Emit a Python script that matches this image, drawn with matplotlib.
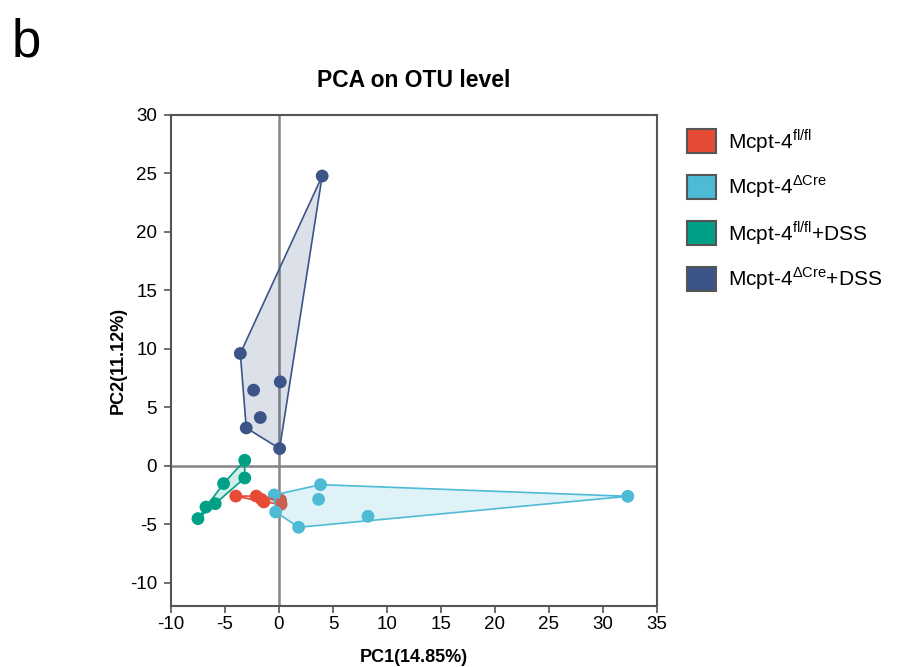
import numpy as np
import matplotlib
matplotlib.use("Agg")
from matplotlib import pyplot as plt
from matplotlib.patches import Patch, Polygon

plt.rcParams["font.family"] = ["Liberation Sans", "DejaVu Sans"]
plt.rcParams["mathtext.fontset"] = "custom"
plt.rcParams["mathtext.rm"] = "Liberation Sans"
plt.rcParams["axes.unicode_minus"] = False

# PCA scores
fl_x = [-4.0, -2.1, -1.6, -1.4, 0.15, 0.2]
fl_y = [-2.6, -2.6, -2.9, -3.1, -2.95, -3.3]

cre_x = [-0.44, -0.31, 3.85, 3.67, 1.82, 8.24, 32.3]
cre_y = [-2.5, -3.96, -1.62, -2.88, -5.27, -4.33, -2.62]

fl_dss_x = [-3.17, -3.17, -5.13, -5.9, -6.76, -7.5]
fl_dss_y = [0.46, -1.05, -1.53, -3.25, -3.54, -4.53]

cre_dss_x = [4.0, -3.58, -2.35, 0.12, -1.73, -3.03, 0.06]
cre_dss_y = [24.78, 9.6, 6.46, 7.17, 4.12, 3.23, 1.46]

labels = [
    r"Mcpt-4$^{\mathregular{fl/fl}}$",
    r"Mcpt-4$^{\Delta\mathregular{Cre}}$",
    r"Mcpt-4$^{\mathregular{fl/fl}}$+DSS",
    r"Mcpt-4$^{\Delta\mathregular{Cre}}$+DSS",
]
colors = ["#E64B35", "#4DBBD5", "#00A087", "#3C5488"]
groups = [(fl_x, fl_y), (cre_x, cre_y), (fl_dss_x, fl_dss_y), (cre_dss_x, cre_dss_y)]


def convex_hull(pts):
    pts = sorted(set(map(tuple, pts)))
    if len(pts) < 3:
        return pts

    def cross(o, a, b):
        return (a[0] - o[0]) * (b[1] - o[1]) - (a[1] - o[1]) * (b[0] - o[0])

    lower, upper = [], []
    for p in pts:
        while len(lower) >= 2 and cross(lower[-2], lower[-1], p) <= 0:
            lower.pop()
        lower.append(p)
    for p in reversed(pts):
        while len(upper) >= 2 and cross(upper[-2], upper[-1], p) <= 0:
            upper.pop()
        upper.append(p)
    return lower[:-1] + upper[:-1]


fig = plt.figure(figsize=(8.97, 6.67), dpi=100)
ax = fig.add_axes([0.1906, 0.0915, 0.5418, 0.7361])

ax.axhline(0, color="#858585", lw=1.8, zorder=1)
ax.axvline(0, color="#858585", lw=1.8, zorder=1)

for (xs, ys), c in zip(groups, colors):
    ax.scatter(xs, ys, s=85, color=c, edgecolors="none", zorder=3)
    hull = convex_hull(np.column_stack([xs, ys]))
    ax.add_patch(Polygon(hull, closed=True, facecolor=c, alpha=0.18,
                         edgecolor="none", zorder=4))
    ax.add_patch(Polygon(hull, closed=True, facecolor="none", edgecolor=c,
                         lw=1.2, zorder=4))

ax.set_xlim(-10, 35)
ax.set_ylim(-12, 30)
ax.set_xticks(np.arange(-10, 36, 5))
ax.set_yticks(np.arange(-10, 31, 5))
for s in ax.spines.values():
    s.set_color("#555555")
    s.set_linewidth(1.5)
ax.tick_params(colors="#555555", labelcolor="black", labelsize=13.5,
               length=5, width=1.2)
ax.tick_params(axis="x", pad=2)
ax.tick_params(axis="y", pad=5)

ax.set_xlabel("PC1(14.85%)", fontsize=13, fontweight="bold", va="top")
ax.xaxis.set_label_coords(0.5, -0.088)
ax.set_ylabel("PC2(11.12%)", fontsize=13, fontweight="bold")
ax.yaxis.set_label_coords(-0.092, 0.5)
ax.set_title("PCA on OTU level", fontsize=16.5, fontweight="bold", pad=20)

handles = [Patch(facecolor=c, edgecolor="#555555", lw=1.5) for c in colors]
fig.legend(handles, labels, loc="upper left", bbox_to_anchor=(0.766, 0.81),
           frameon=False, fontsize=15, handlelength=1.4, handleheight=1.35,
           labelspacing=0.9, handletextpad=0.55, borderpad=0,
           borderaxespad=0)

fig.text(0.013, 0.915, "b", fontsize=38)

fig.savefig("out.png", dpi=100)
